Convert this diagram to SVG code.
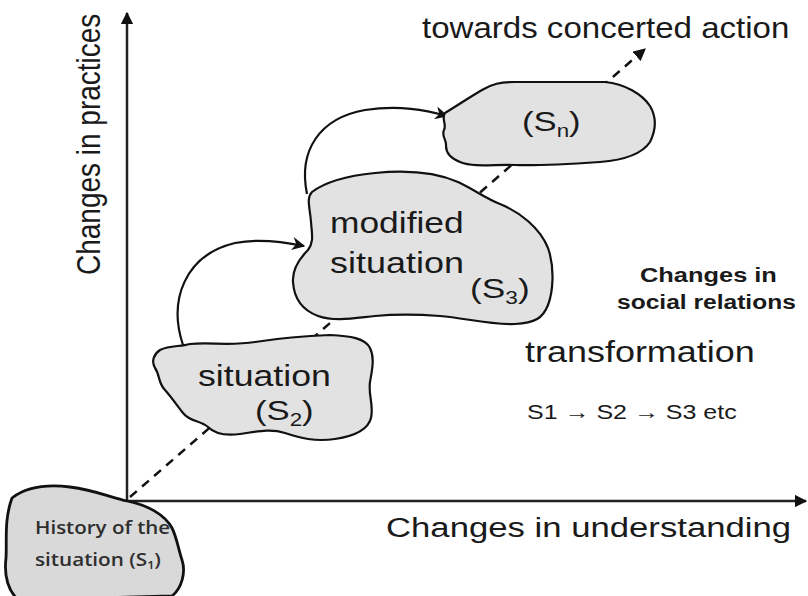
<svg xmlns="http://www.w3.org/2000/svg" width="808" height="596" viewBox="0 0 808 596">
  <defs>
    <marker id="tri" viewBox="0 0 10 10" refX="9" refY="5" markerWidth="5" markerHeight="5" orient="auto" markerUnits="strokeWidth">
      <path d="M0,0 L10,5 L0,10 z" fill="#111"/>
    </marker>
    <marker id="tri-small" viewBox="0 0 10 10" refX="9" refY="5" markerWidth="7" markerHeight="6" orient="auto" markerUnits="strokeWidth">
      <path d="M0,0 L10,5 L0,10 L3,5 z" fill="#111"/>
    </marker>
    <style>
      .axis { stroke: #222; stroke-width: 2.5; fill: none; }
      .dash { stroke: #111; stroke-width: 2.5; fill: none; stroke-dasharray: 9 7; }
      .arc { stroke: #111; stroke-width: 2.2; fill: none; }
      .blob { fill: #e2e2e2; stroke: #111; stroke-width: 2.2; stroke-linejoin: round; }
      .blob1 { fill: #d9d9d9; stroke: #111; stroke-width: 2.8; }
      .t { font-family: "Liberation Sans", Arial, sans-serif; fill: #1a1a1a; }
      .c { font-family: "Open Sans", "Noto Sans", sans-serif; fill: #2e2e2e; font-weight: 600; }
    </style>
  </defs>

  <!-- axes -->
  <g id="axes">
    <line class="axis" x1="127" y1="501" x2="127" y2="13" marker-end="url(#tri)"/>
    <line class="axis" x1="127" y1="501" x2="806" y2="501" marker-end="url(#tri)"/>
  </g>

  <!-- connectors -->
  <g id="connectors">
    <line class="dash" x1="130" y1="497" x2="645" y2="49" marker-end="url(#tri)"/>
    <path class="arc" d="M183,345 C168,300 185,255 235,243 C260,238 285,242 304,246" marker-end="url(#tri-small)"/>
    <path class="arc" d="M307,194 C298,150 320,118 365,110 C400,105 425,110 447,116" marker-end="url(#tri-small)"/>
  </g>

  <!-- history of the situation (S1) -->
  <g id="node-s1">
    <path class="blob1" d="M12,498 C25,488 45,484 70,487 C95,490 112,498 127,501 C148,505 165,515 172,528 C177,538 178,548 182,560 C186,572 182,588 172,596 L18,600 C8,590 4,575 6,558 C7,540 4,520 12,498 Z"/>
    <text class="c" font-size="18" transform="translate(35,534) scale(1.14,1)">History of the</text>
    <text class="c" font-size="18" transform="translate(35,566) scale(1.15,1)">situation (S<tspan font-size="11" dy="3">1</tspan><tspan dy="-3">)</tspan></text>
  </g>

  <!-- situation (S2) -->
  <g id="node-s2">
    <path class="blob" d="M160,350 C170,345 180,347 190,344 C210,342 230,346 255,342 C280,338 300,336 330,335 C350,336 365,338 370,348 C375,358 372,370 370,382 C368,395 374,405 371,418 C368,430 355,436 335,439 C315,442 300,438 285,433 C270,428 255,432 240,434 C225,436 215,434 208,427 C200,420 190,422 183,413 C176,404 172,398 165,390 C158,383 160,375 155,368 C151,361 154,354 160,350 Z"/>
    <text class="t" font-size="29" transform="translate(198,386) scale(1.23,1)">situation</text>
    <text class="t" font-size="28" transform="translate(255,420) scale(1.24,1)">(S<tspan font-size="18" dy="6">2</tspan><tspan dy="-6">)</tspan></text>
  </g>

  <!-- modified situation (S3) -->
  <g id="node-s3">
    <path class="blob" d="M312,192 C325,182 345,176 375,173 C405,170 435,172 458,182 C475,190 485,198 500,204 C520,212 540,228 548,248 C555,268 553,292 548,305 C543,318 535,323 515,324 C490,325 465,318 440,316 C415,314 395,314 375,316 C355,318 335,322 318,316 C302,310 294,298 293,282 C292,268 300,258 308,250 C314,242 312,235 311,222 C310,208 306,198 312,192 Z"/>
    <text class="t" font-size="29" transform="translate(330,233) scale(1.22,1)">modified</text>
    <text class="t" font-size="29" transform="translate(330,273) scale(1.24,1)">situation</text>
    <text class="t" font-size="28" transform="translate(470,298) scale(1.26,1)">(S<tspan font-size="18" dy="6">3</tspan><tspan dy="-6">)</tspan></text>
  </g>

  <!-- situation Sn -->
  <g id="node-sn">
    <path class="blob" d="M445,113 C458,105 470,97 482,90 C492,84 500,82 515,82 L605,82 C625,84 642,94 650,106 C657,118 656,130 650,142 C642,154 625,160 600,162 C570,164 540,166 515,165 C495,164 475,168 460,162 C450,158 446,152 446,146 C447,140 441,136 444,130 C447,124 441,119 445,113 Z"/>
    <text class="t" font-size="28" transform="translate(522,131) scale(1.24,1)">(S<tspan font-size="18" dy="6">n</tspan><tspan dy="-6">)</tspan></text>
  </g>

  <!-- labels -->
  <g id="labels">
    <text class="t" font-size="28" transform="translate(100,275) scale(1.2,1) rotate(-90)">Changes in practices</text>
    <text class="t" font-size="29" transform="translate(422,38) scale(1.14,1)">towards concerted action</text>
    <text class="t" font-size="28" transform="translate(386,537) scale(1.24,1)">Changes in understanding</text>
    <text class="t" font-size="21" font-weight="bold" transform="translate(640,282) scale(1.21,1)">Changes in</text>
    <text class="t" font-size="21" font-weight="bold" transform="translate(617,309) scale(1.17,1)">social relations</text>
    <text class="t" font-size="29" transform="translate(525,362) scale(1.24,1)">transformation</text>
    <text class="t" font-size="20" transform="translate(527,419) scale(1.25,1)">S1 → S2 → S3 etc</text>
  </g>
</svg>
